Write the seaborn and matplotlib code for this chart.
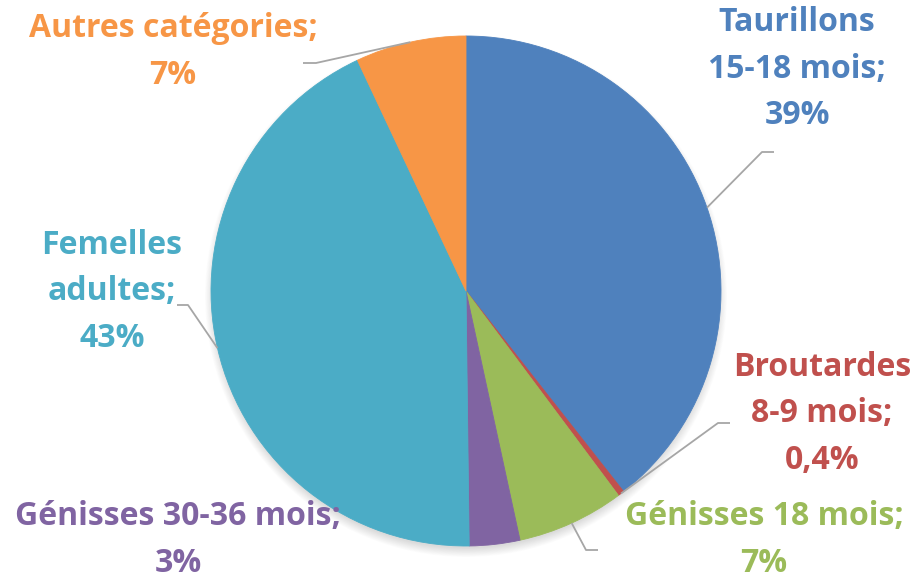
import matplotlib
matplotlib.use("Agg")
import matplotlib.pyplot as plt
import seaborn as sns
import numpy as np

# ---- data ----
categories = ["Taurillons\n15-18 mois", "Broutardes\n8-9 mois", "Génisses 18 mois",
              "Génisses 30-36 mois", "Femelles\nadultes", "Autres catégories"]
values = [39.4, 0.4, 6.8, 3.2, 43.2, 7.0]
pct_labels = ["39%", "0,4%", "7%", "3%", "43%", "7%"]
colors = ["#4F81BD", "#C0504D", "#9BBB59", "#8064A2", "#4BACC6", "#F79646"]

sns.set_theme(style="white")
plt.rcParams["font.family"] = ["Open Sans", "DejaVu Sans"]

W, H = 910, 582
fig = plt.figure(figsize=(W / 100, H / 100), dpi=100)
ax = fig.add_axes([0, 0, 1, 1])

cx, cy, R = 466, 582 - 291, 255

# soft shadow
for i in range(12):
    circ = plt.Circle((cx, cy - 5), R + 6 - i * 0.8, color="black", alpha=0.012, lw=0, zorder=0)
    ax.add_patch(circ)

wedges, _ = ax.pie(values, colors=colors, startangle=90, counterclock=False,
                   center=(cx, cy), radius=R,
                   wedgeprops=dict(linewidth=0))
for w, c in zip(wedges, colors):
    w.set_zorder(2)
    w.set_edgecolor(c)
    w.set_linewidth(0.6)

# label layout (pixel coords, y from top)
label_pos = [(797, 69), (822, 414), (764, 540), (178, 540), (112, 292), (173, 52)]
# leader elbows (pixel coords): (elbow, end) or None
elbows = [((762, 152), (774, 152)),
          ((718, 423), (730, 423)),
          ((586, 550), (598, 550)),
          None,
          ((188, 305), (177, 305)),
          ((316, 63), (303, 63))]

cum = np.cumsum([0] + values)
tot = sum(values)
for i, (name, v) in enumerate(zip(categories, values)):
    x, y = label_pos[i]
    txt = name + ";\n" + pct_labels[i]
    ax.text(x, H - y, txt, ha="center", va="center", fontsize=23,
            fontweight="bold", color=colors[i], linespacing=1.55, zorder=5)
    if elbows[i] is not None:
        mid = (cum[i] + v / 2) / tot * 2 * np.pi
        sx = cx + R * np.sin(mid)
        sy = cy + R * np.cos(mid)
        (ex, ey), (tx, ty) = elbows[i]
        ax.plot([sx, ex, tx], [sy, H - ey, H - ty], color="#A6A6A6", lw=1.3,
                solid_capstyle="butt", zorder=3)

ax.set_xlim(0, W)
ax.set_ylim(0, H)
ax.set_aspect("equal")
ax.axis("off")
fig.savefig("out.png", dpi=100, facecolor="white")
